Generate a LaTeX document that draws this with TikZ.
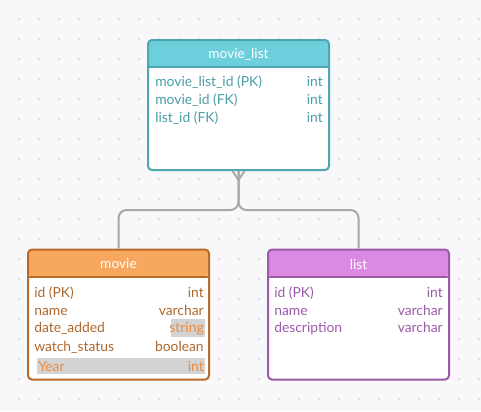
\documentclass[tikz,border=0pt]{standalone}
\usepackage{fontspec}
\setmainfont{Lato}
\usetikzlibrary{positioning}
\definecolor{bggray}{HTML}{F8F8FA}
\definecolor{dotgray}{HTML}{DCDCE2}
\definecolor{linkgray}{HTML}{A8A8A8}
\definecolor{hlgray}{HTML}{D3D3D3}
\definecolor{mlfill}{HTML}{6DCFDB}
\definecolor{mlline}{HTML}{4EA7B0}
\definecolor{mltext}{HTML}{4A9EA8}
\definecolor{mvfill}{HTML}{F7A85E}
\definecolor{mvline}{HTML}{B86B26}
\definecolor{mvtext}{HTML}{B0682C}
\definecolor{mvhl}{HTML}{EE8A3A}
\definecolor{lsfill}{HTML}{DA8AE2}
\definecolor{lsline}{HTML}{9B5BA8}
\definecolor{lstext}{HTML}{9C5AAA}
\tikzset{tbl/.style 2 args={draw=#2, line width=1.5pt, rounded corners=3pt, fill=white,
            minimum width=135.75pt, minimum height=97.5pt, inner sep=0pt,
            path picture={\fill[#1] (path picture bounding box.north west) rectangle ([yshift=-20.25pt]path picture bounding box.north east);
                          \draw[#2, line width=1.5pt] ([yshift=-20.25pt]path picture bounding box.north west) -- ([yshift=-20.25pt]path picture bounding box.north east);}},
         head/.style={text=white, font=\fontsize{10.3}{12}\selectfont, inner sep=0pt},
         field/.style={font=\fontsize{10.4}{12}\selectfont, inner sep=0pt, anchor=base west},
         ftype/.style={field, anchor=base east},
         link/.style={draw=linkgray, line width=1.5pt},
        }

\begin{document}
\begin{tikzpicture}[x=0.75pt,y=-0.75pt]
        \fill[bggray] (0,0) rectangle (481,411);
        \useasboundingbox (0,0) rectangle (481,411);
        \foreach \i in {19,39,...,479}
            \foreach \j in {19,39,...,409}
                \fill[dotgray] (\i,\j) circle (1.3);

        % tables
        \node[tbl={mlfill}{mlline}](ml)at(238.5,105){};
        \node[tbl={mvfill}{mvline}](mv)at(118.5,314.5){};
        \node[tbl={lsfill}{lsline}](ls)at(358.5,314.5){};
        \node[head](mlt)at(238.5,54){movie\_list};
        \node[head](mvt)at(118.5,264){movie};
        \node[head](lst)at(358.5,264){list};

        % movie_list fields
        \node[field,text=mltext](mlid)at(155,86){movie\_list\_id (PK)};
        \node[field,text=mltext](mlmv)at(155,104){movie\_id (FK)};
        \node[field,text=mltext](mlls)at(155,122){list\_id (FK)};
        \node[ftype,text=mltext](mlidt)at(323,86){int};
        \node[ftype,text=mltext](mlmvt)at(323,104){int};
        \node[ftype,text=mltext](mllst)at(323,122){int};

        % movie fields
        \fill[hlgray](171,319)rectangle(205,337);
        \fill[hlgray](37,358)rectangle(205,374);
        \node[field,text=mvtext](mvid)at(34,297){id (PK)};
        \node[field,text=mvtext](mvnm)at(34,315){name};
        \node[field,text=mvtext](mvda)at(34,332){date\_added};
        \node[field,text=mvtext](mvws)at(34,351){watch\_status};
        \node[field,text=mvhl](mvyr)at(38,371){Year};
        \node[ftype,text=mvtext](mvidt)at(204,297){int};
        \node[ftype,text=mvtext](mvnmt)at(204,315){varchar};
        \node[ftype,text=mvhl](mvdat)at(204,332){string};
        \node[ftype,text=mvtext](mvwst)at(204,351){boolean};
        \node[ftype,text=mvhl](mvyrt)at(204,371){int};

        % list fields
        \node[field,text=lstext](lsid)at(274,297){id (PK)};
        \node[field,text=lstext](lsnm)at(274,315){name};
        \node[field,text=lstext](lsds)at(274,332){description};
        \node[ftype,text=lstext](lsidt)at(443,297){int};
        \node[ftype,text=lstext](lsnmt)at(443,315){varchar};
        \node[ftype,text=lstext](lsdst)at(443,332){varchar};

        % relation
        \coordinate(fork)at(238.5,210);
        \coordinate(foot)at(238.5,180);
        \draw[link,rounded corners=6pt](ml.south)--(fork)-|(mv.north);
        \draw[link,rounded corners=6pt](ml.south)--(fork)-|(ls.north);
        \draw[link]([xshift=-4.5pt]ml.south)--(foot);
        \draw[link]([xshift=4.5pt]ml.south)--(foot);
    \end{tikzpicture}
\end{document}
